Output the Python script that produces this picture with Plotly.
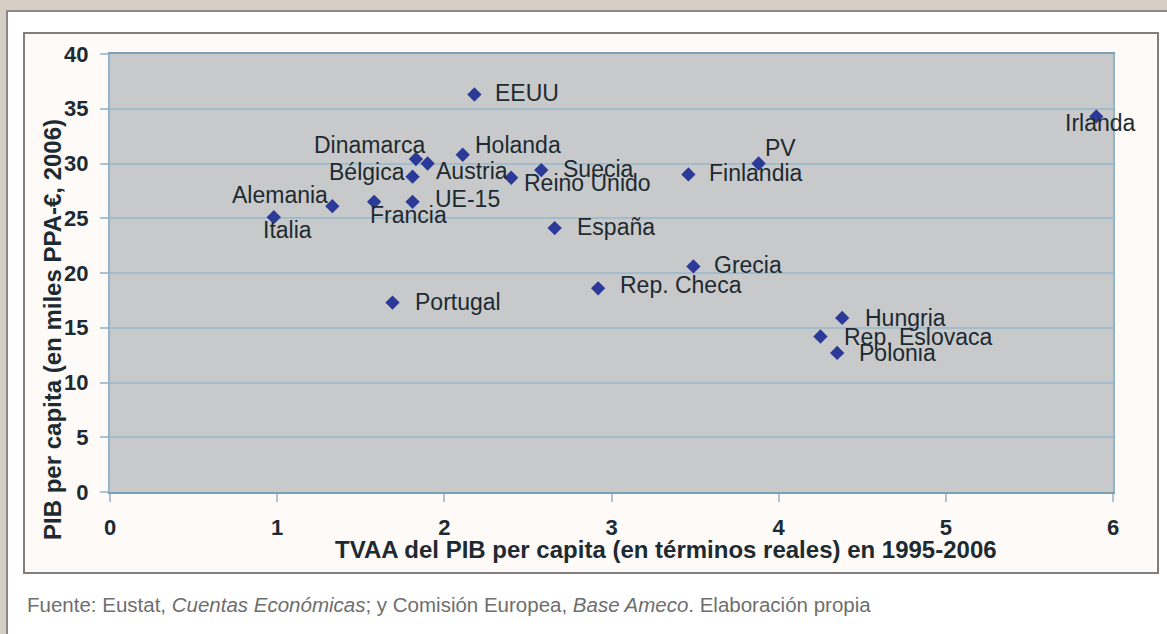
import plotly.graph_objects as go

# ---- data ----
countries = ["EEUU", "Holanda", "Dinamarca", "Austria", "Bélgica", "UE-15", "Francia",
             "Alemania", "Italia", "Reino Unido", "Suecia", "España", "Finlandia", "PV",
             "Grecia", "Rep. Checa", "Portugal", "Irlanda", "Hungria", "Rep. Eslovaca", "Polonia"]
tvaa = [2.18, 2.11, 1.83, 1.90, 1.81, 1.81, 1.58,
        1.33, 0.98, 2.40, 2.58, 2.66, 3.46, 3.88,
        3.49, 2.92, 1.69, 5.90, 4.38, 4.25, 4.35]
pib = [36.3, 30.8, 30.4, 30.0, 28.8, 26.5, 26.5,
       26.1, 25.1, 28.7, 29.4, 24.1, 29.0, 30.0,
       20.6, 18.6, 17.3, 34.3, 15.9, 14.2, 12.7]

x_title = "TVAA del PIB per capita (en términos reales) en 1995-2006"
y_title = "PIB per capita (en miles PPA-€, 2006)"
source = ("Fuente: Eustat, <i>Cuentas Económicas</i>; y Comisión Europea, "
          "<i>Base Ameco</i>. Elaboración propia")

# ---- label placement (styling: anchor, pixel shifts) ----
label_pos = {
    "EEUU": ("left", 19, 2), "Holanda": ("left", 10, 10), "Dinamarca": ("right", 11, 14),
    "Austria": ("left", 6, -7), "Bélgica": ("right", -6, 5), "UE-15": ("left", 20, 3),
    "Francia": ("left", -6, -13), "Alemania": ("right", -2, 11), "Italia": ("center", 14, -13),
    "Reino Unido": ("left", 11, -5), "Suecia": ("left", 20, 1), "España": ("left", 20, 1),
    "Finlandia": ("left", 19, 1), "PV": ("left", 4, 16), "Grecia": ("left", 19, 1),
    "Rep. Checa": ("left", 20, 3), "Portugal": ("left", 20, 1), "Irlanda": ("center", 4, -7),
    "Hungria": ("left", 21, 0), "Rep. Eslovaca": ("left", 22, 0), "Polonia": ("left", 20, 0),
}

W, H = 1167, 634
L, R, T, B = 110, 54, 54, 142
pw, ph = W - L - R, H - T - B


def px(xp):
    return (xp - L) / pw


def py(yp):
    return (H - B - yp) / ph


FONT = "Liberation Sans, Arial, sans-serif"
TXT = "#1d2a31"

fig = go.Figure()
fig.add_trace(go.Scatter(
    x=tvaa, y=pib, mode="markers",
    marker=dict(symbol="diamond", size=11, color="#2b3a98"),
    text=countries, hoverinfo="text", showlegend=False, cliponaxis=False,
))

annotations = []
for name, xv, yv in zip(countries, tvaa, pib):
    anc, dx, dy = label_pos[name]
    annotations.append(dict(
        x=xv, y=yv, xref="x", yref="y", text=name, showarrow=False,
        xanchor=anc, yanchor="middle", xshift=dx, yshift=dy,
        font=dict(family=FONT, size=23, color=TXT),
    ))

annotations.append(dict(
    x=px(666), y=py(549), xref="paper", yref="paper", text=x_title, showarrow=False,
    xanchor="center", yanchor="middle",
    font=dict(family=FONT, size=24, color=TXT, weight="bold"),
))
annotations.append(dict(
    x=px(52), y=py(330), xref="paper", yref="paper", text=y_title, showarrow=False,
    textangle=-90, xanchor="center", yanchor="middle",
    font=dict(family=FONT, size=24, color=TXT, weight="bold"),
))
annotations.append(dict(
    x=px(25), y=py(604), xref="paper", yref="paper", text=source, showarrow=False,
    xanchor="left", yanchor="middle",
    font=dict(family=FONT, size=20.5, color="#6e6e6e"),
))

shapes = [
    # white panel
    dict(type="rect", xref="paper", yref="paper", x0=px(7), x1=px(1175), y0=py(640), y1=py(11),
         fillcolor="#ffffff", line=dict(color="#8c8782", width=2), layer="below"),
    # chart box
    dict(type="rect", xref="paper", yref="paper", x0=px(24), x1=px(1158), y0=py(573), y1=py(33),
         fillcolor="#fdfaf8", line=dict(color="#7f7f7f", width=2), layer="below"),
    # plot area
    dict(type="rect", xref="paper", yref="paper", x0=0, x1=1, y0=0, y1=1,
         fillcolor="#c8c9ca", line=dict(width=0), layer="below"),
]

fig.update_layout(
    width=W, height=H,
    margin=dict(l=L, r=R, t=T, b=B, pad=0),
    paper_bgcolor="#d5cec5",
    plot_bgcolor="#c8c9ca",
    font=dict(family=FONT, color=TXT),
    annotations=annotations,
    shapes=shapes,
    showlegend=False,
)

fig.update_xaxes(
    range=[0, 6], dtick=1, tick0=0,
    showgrid=False, zeroline=False,
    showline=True, linecolor="#7e9fb6", linewidth=2, mirror=True,
    ticks="outside", ticklen=8, tickcolor="#a9c3d4", tickwidth=1.5,
    ticklabelstandoff=7,
    tickfont=dict(family=FONT, size=22, color=TXT, weight="bold"),
)
fig.update_yaxes(
    range=[0, 40], dtick=5, tick0=0,
    showgrid=True, gridcolor="#a3bccb", gridwidth=1.5,
    zeroline=False,
    showline=True, linecolor="#93b3c9", linewidth=2, mirror=True,
    ticks="outside", ticklen=8, tickcolor="#a9c3d4", tickwidth=1.5,
    ticklabelstandoff=7,
    tickfont=dict(family=FONT, size=22, color=TXT, weight="bold"),
)

fig.write_html(
    "out.html",
    config={"displayModeBar": False},
    post_script="document.body.style.margin='0';document.body.style.background='#d5cec5';",
)
